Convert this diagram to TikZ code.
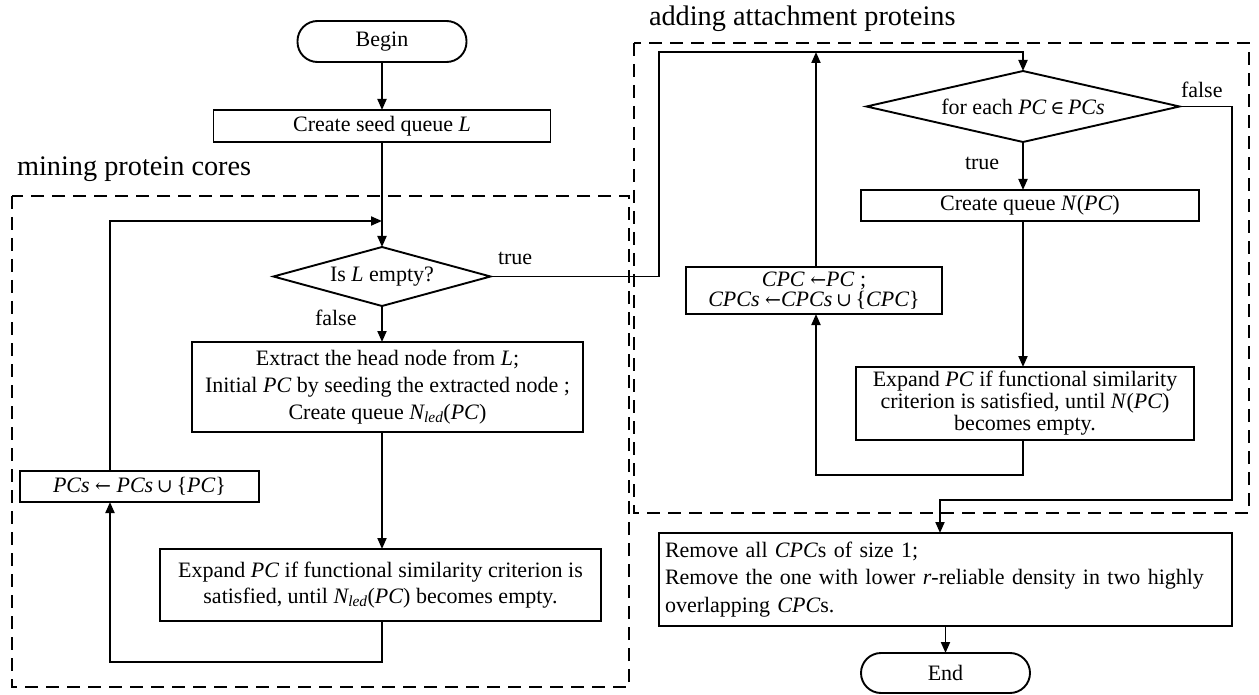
\documentclass[tikz,border=0pt]{standalone}
\usepackage{fontspec}
\setmainfont{Liberation Serif}
\newfontfamily\symf{DejaVu Serif}
\usetikzlibrary{arrows.meta,shapes.geometric,calc}
\newcommand{\lar}{{\symf\fontsize{19}{20}\selectfont ←}}
\newcommand{\cupx}{{\symf\fontsize{19}{20}\selectfont ∪}}
\newcommand{\inx}{{\symf\fontsize{19}{20}\selectfont ∈}}
\begin{document}
\begin{tikzpicture}[x=1pt,y=-1pt,
  every node/.style={inner sep=0pt, outer sep=0pt},
  txt/.style={font=\fontsize{22}{27}\selectfont},
  box/.style={draw, line width=1.9pt, align=center, txt},
  term/.style={box, rounded corners=20pt},
  dia/.style={draw, line width=1.9pt, diamond, align=center, txt},
  lab/.style={txt, anchor=west},
  big/.style={font=\fontsize{28.3}{32}\selectfont, anchor=base west},
  grp/.style={draw, line width=2.3pt, dash pattern=on 13pt off 8pt},
  arr/.style={line width=1.9pt, -{Triangle[length=11pt,width=9pt]}}
]
\useasboundingbox (0,0) rectangle (1259,695);

% group boxes
\draw[grp] (12,196) rectangle (629,687);
\draw[grp] (634,43) rectangle (1249,513);
\node[big] (labL) at (17,176) {mining protein cores};
\node[big] (labR) at (649,26) {adding attachment proteins};

% left column
\node[term, minimum width=169pt, minimum height=41pt] (begin) at (382,41.5) {Begin};
\node[box, minimum width=337pt, minimum height=32pt] (seed) at (382,126) {Create seed queue \textit{L}};
\node[dia, aspect=3.68, minimum width=217pt, minimum height=59pt] (dL) at (382,276.5) {Is \textit{L} empty?};
\node[box, minimum width=391pt, minimum height=90pt] (ex) at (387.5,387)
  {Extract the head node from \textit{L};\\
   Initial \textit{PC} by seeding the extracted node ;\\
   Create queue \textit{N\textsubscript{led}}(\textit{PC})};
\node[box, minimum width=441pt, minimum height=72pt, font=\fontsize{22}{26}\selectfont] (exp) at (380.5,585)
  {Expand \textit{PC} if functional similarity criterion is\\
   satisfied, until \textit{N\textsubscript{led}}(\textit{PC}) becomes empty.};
\node[box, minimum width=239pt, minimum height=31pt] (pcs) at (139.5,486.5)
  {\textit{PCs} \lar\ \textit{PCs}\,\cupx\,\{\textit{PC}\}};

\node[lab] (tL) at (498,258) {true};
\node[lab] (fL) at (315,318) {false};

% right column
\node[dia, aspect=4.41, minimum width=313pt, minimum height=71pt] (d2) at (1023,106.5)
  {for each \textit{PC}\,\inx\,\textit{PCs}};
\node[box, minimum width=338pt, minimum height=31pt] (nq) at (1030,205.5)
  {Create queue \textit{N}(\textit{PC})};
\node[box, minimum width=338pt, minimum height=73pt, font=\fontsize{22}{22}\selectfont] (exp2) at (1025,403.5)
  {Expand \textit{PC} if functional similarity\\
   criterion is satisfied, until \textit{N}(\textit{PC})\\
   becomes empty.};
\node[box, minimum width=256pt, minimum height=47pt, font=\fontsize{22}{20}\selectfont] (cpc) at (814,290.5)
  {\textit{CPC} \lar\textit{PC} ;\\
   \textit{CPCs} \lar\textit{CPCs}\,\cupx\,\{\textit{CPC}\}};
\node[box, minimum width=573pt, minimum height=93pt, text width=561pt, align=left, font=\fontsize{22}{27.5}\selectfont] (rem) at (945.5,579.5)
  {Remove all \textit{CPC}s of size 1;\\
   Remove the one with lower \textit{r}-reliable density in two highly\\
   overlapping \textit{CPC}s.};
\node[term, minimum width=169pt, minimum height=40pt] (endn) at (945.5,673) {End};

\node[lab] (tR) at (965,163) {true};
\node[lab] (fR) at (1181,90) {false};

% coordinates
\coordinate (j1) at (382,221);
\coordinate (lx) at (110,662);
\coordinate (t1) at (659,52);
\coordinate (r1) at (816,475);
\coordinate (f1) at (1232,500);
\coordinate (f2) at (940,500);

% connectors left
\draw[arr] (begin) -- (seed);
\draw[arr] (seed) -- (dL);
\draw[arr] (dL.south) -- (dL.south |- ex.north);
\draw[arr] (dL.south |- ex.south) -- (dL.south |- exp.north);
\draw[arr] (exp.south -| dL.south) |- (lx) -- (pcs.south -| lx);
\draw[arr] (pcs.north -| lx) |- (j1);

% connectors right
\draw[arr] (dL.east) -| (t1) -| (d2.north);
\draw[arr] (d2.south) -- (d2.south |- nq.north);
\draw[arr] (nq.south -| d2.south) -- (d2.south |- exp2.north);
\draw[arr] (exp2.south -| d2.south) |- (r1) -- (cpc.south -| r1);
\draw[arr] (cpc.north -| r1) -- (r1 |- t1);
\draw[arr] (d2.east) -| (f1) -- (f2) -- (f2 |- rem.north);
\draw[arr] (rem) -- (endn);
\end{tikzpicture}
\end{document}
